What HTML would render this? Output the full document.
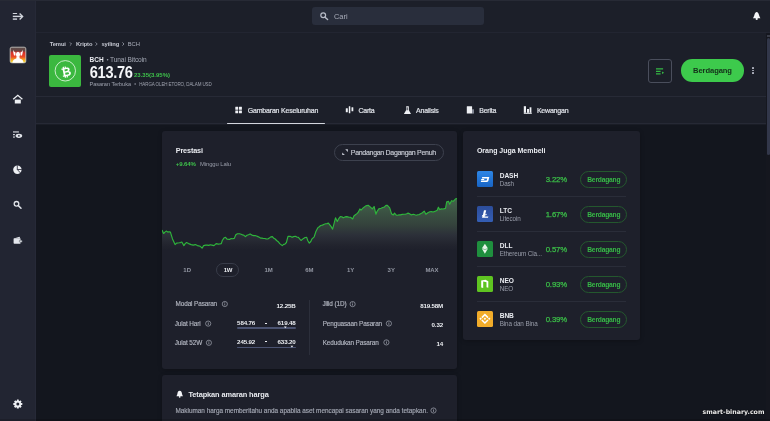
<!DOCTYPE html>
<html><head><meta charset="utf-8">
<style>
*{margin:0;padding:0;box-sizing:border-box}
html,body{width:770px;height:421px;overflow:hidden;background:#13161e;font-family:"Liberation Sans",Arial,sans-serif;color:#e9ebf0}
.a{position:absolute}
.t{position:absolute;white-space:nowrap;line-height:1}
</style></head><body>
<div class="a" style="left:0px;top:0px;width:36px;height:421px;background:#222532"></div>
<div class="a" style="left:35px;top:0px;width:1px;height:421px;background:#262937"></div>
<div class="a" style="left:36px;top:0px;width:734px;height:32px;background:#1c1f29"></div>
<div class="a" style="left:36px;top:32px;width:734px;height:1px;background:#222531"></div>
<div class="a" style="left:0px;top:0px;width:770px;height:1px;background:#272a35"></div>
<div class="a" style="left:36px;top:33px;width:730px;height:63px;background:#1c1f29"></div>
<div class="a" style="left:36px;top:96px;width:730px;height:1px;background:#272a36"></div>
<div class="a" style="left:36px;top:97px;width:730px;height:26px;background:#1c1f29"></div>
<div class="a" style="left:36px;top:123px;width:730px;height:1px;background:#262935"></div>
<div class="a" style="left:36px;top:124px;width:730px;height:1px;background:#1a1d26"></div>
<div class="a" style="left:766px;top:33px;width:4px;height:388px;background:#15171f"></div>
<div class="a" style="left:767px;top:34.5px;width:3px;height:2px;background:#3a3d49"></div>
<div class="a" style="left:767px;top:38px;width:3px;height:117px;background:#32374a;border-radius:1.5px"></div>
<svg class="a" style="left:0;top:0" width="36" height="421" viewBox="0 0 36 421">
<g fill="none" stroke="#d3d6de" stroke-linecap="butt">
<path d="M12.8 13.5H17.1" stroke-width="1"/>
<path d="M12.8 16.4H22.3" stroke-width="1.4"/>
<path d="M19.6 13.4L22.6 16.4L19.6 19.4" stroke-width="1.4" stroke-linejoin="miter"/>
<path d="M12.8 19.1H17.1" stroke-width="1.4"/>
</g>
<defs><linearGradient id="flag" x1="0" y1="0" x2="0" y2="1">
<stop offset="0" stop-color="#5c5252"/><stop offset="0.22" stop-color="#6a4440"/><stop offset="0.36" stop-color="#dc2f28"/><stop offset="0.62" stop-color="#ea4a26"/><stop offset="0.78" stop-color="#f29a22"/><stop offset="0.92" stop-color="#f6d230"/><stop offset="1" stop-color="#f4dc60"/></linearGradient></defs>
<rect x="10.2" y="47.2" width="15.6" height="15.6" rx="1.6" fill="url(#flag)" stroke="#d6d2ca" stroke-width="0.8"/>
<path d="M13.2 49.8C13.6 51 14.4 52 15.6 52.6L15.4 55.6L14 55.6C13.4 53.8 13.1 51.8 13.2 49.8Z" fill="#fff"/>
<path d="M22.8 49.8C22.4 51 21.6 52 20.4 52.6L20.6 55.6L22 55.6C22.6 53.8 22.9 51.8 22.8 49.8Z" fill="#fff"/>
<ellipse cx="18" cy="54.4" rx="2.1" ry="2.6" fill="#fff"/>
<path d="M12.4 62.8C12.6 60.2 14.4 58.9 16.3 58.5L16.6 56.5H19.4L19.7 58.5C21.6 58.9 23.4 60.2 23.6 62.8Z" fill="#fff"/>
<g fill="#eef0f4">
<path d="M13.2 99.3L17.8 95.3L22.4 99.3" fill="none" stroke="#eef0f4" stroke-width="1.3"/>
<rect x="14.8" y="99.6" width="6" height="3.9"/>
</g>
<g fill="#dfe2e8">
<rect x="13" y="131.4" width="5.9" height="1.1"/>
<rect x="13" y="134.1" width="1.9" height="1.1"/>
<rect x="13" y="136.5" width="1.9" height="1.1"/>
<ellipse cx="18.9" cy="135.8" rx="3.3" ry="2.1"/>
<circle cx="18.9" cy="135.8" r="0.9" fill="#2a2e3a"/>
</g>
<circle cx="17.4" cy="169.8" r="4.2" fill="#eef0f4"/>
<path d="M17.3 165.4V169.5H21.8M17.3 169.5L20.4 172.9" stroke="#222532" stroke-width="0.8" fill="none"/>
<circle cx="16.5" cy="203.8" r="2.3" fill="none" stroke="#dfe2e8" stroke-width="1.3"/>
<path d="M18.3 205.6L21 208.3" stroke="#dfe2e8" stroke-width="1.5" stroke-linecap="round"/>
<path d="M13.7 238.4L19.6 236.8L20.1 238.2Z" fill="#e3e6ec"/>
<rect x="13.6" y="238.2" width="7" height="5.6" rx="0.7" fill="#e3e6ec"/>
<rect x="19.4" y="240.2" width="2.8" height="2" rx="0.5" fill="#e3e6ec" stroke="#222532" stroke-width="0.4"/>
<g transform="translate(17.8 404.1)" fill="#eef0f4"><circle r="3.4"/><rect x="-1" y="-4.5" width="2" height="2" rx="0.3" transform="rotate(0)"/><rect x="-1" y="-4.5" width="2" height="2" rx="0.3" transform="rotate(45)"/><rect x="-1" y="-4.5" width="2" height="2" rx="0.3" transform="rotate(90)"/><rect x="-1" y="-4.5" width="2" height="2" rx="0.3" transform="rotate(135)"/><rect x="-1" y="-4.5" width="2" height="2" rx="0.3" transform="rotate(180)"/><rect x="-1" y="-4.5" width="2" height="2" rx="0.3" transform="rotate(225)"/><rect x="-1" y="-4.5" width="2" height="2" rx="0.3" transform="rotate(270)"/><rect x="-1" y="-4.5" width="2" height="2" rx="0.3" transform="rotate(315)"/><circle r="1.5" fill="#222532"/></g>
</svg>
<div class="a" style="left:312px;top:7px;width:172px;height:18px;background:#292e3c;border-radius:3px"></div>
<svg class="a" style="left:318px;top:10px" width="14" height="14" viewBox="318 10 14 14">
<circle cx="323.2" cy="15.3" r="2.4" fill="none" stroke="#b8bcc8" stroke-width="1.2"/>
<path d="M325 17.2L327.6 19.6" stroke="#b8bcc8" stroke-width="1.4" stroke-linecap="round"/></svg>
<div class="t" style="left:334.00px;top:13.00px;font-size:7.4px;color:#a9adba">Cari</div>
<svg class="a" style="left:750px;top:9px" width="14" height="14" viewBox="750 9 14 14">
<path d="M756.7 11.9C757.9 11.9 758.6 13.3 759 14.9C759.4 16.6 760.2 17.3 760.4 18.2H753C753.2 17.3 754 16.6 754.4 14.9C754.8 13.3 755.5 11.9 756.7 11.9Z" fill="#f4f5f8"/>
<circle cx="756.7" cy="18.9" r="1.1" fill="#f4f5f8"/></svg>
<div class="t" style="left:49.70px;top:42.00px;font-size:5.8px;color:#c4c7d1;font-weight:700;letter-spacing:-0.1px">Temui</div>
<div class="t" style="left:75.90px;top:42.00px;font-size:5.8px;color:#c4c7d1;font-weight:700;letter-spacing:-0.1px">Kripto</div>
<div class="t" style="left:101.50px;top:42.00px;font-size:5.8px;color:#c4c7d1;font-weight:700;letter-spacing:-0.1px">syiling</div>
<div class="t" style="left:127.70px;top:42.00px;font-size:5.8px;color:#a9adb9">BCH</div>
<svg class="a" style="left:0;top:0" width="200" height="100" viewBox="0 0 200 100"><g fill="none" stroke="#9ea2ae" stroke-width="0.8"><path d="M69.9 42.4L71.5 44L69.9 45.6"/><path d="M95.60000000000001 42.4L97.2 44L95.60000000000001 45.6"/><path d="M122.4 42.4L124.0 44L122.4 45.6"/></g><circle cx="107.6" cy="59.7" r="0.8" fill="#a3a7b3"/><circle cx="135.1" cy="84" r="0.75" fill="#9ea2ae"/></svg>
<svg class="a" style="left:49px;top:55px" width="32" height="32" viewBox="0 0 32 32">
<rect width="32" height="32" rx="2" fill="#3bb83f"/>
<circle cx="16.3" cy="15.8" r="10.2" fill="none" stroke="#d8f2d8" stroke-width="0.9"/>
</svg>
<div class="t" style="left:60.90px;top:66.00px;font-size:12px;color:#ffffff;font-weight:700;transform:rotate(-12deg);transform-origin:5px 5px">₿</div>
<div class="t" style="left:89.60px;top:57.00px;font-size:6.5px;color:#e9ebf0;font-weight:700">BCH</div>
<div class="t" style="left:110.00px;top:57.00px;font-size:6.6px;color:#a3a7b3;letter-spacing:-0.1px">Tunai Bitcoin</div>
<div class="t" style="left:89.80px;top:66.00px;font-size:14.6px;color:#f4f5f8;font-weight:700;letter-spacing:-0.3px;transform:scaleY(1.08);transform-origin:0 12px">613.76</div>
<div class="t" style="left:134.00px;top:72.00px;font-size:6.0px;color:#3ec24b;font-weight:700">23.35(3.95%)</div>
<div class="t" style="left:89.50px;top:82.00px;font-size:5.6px;color:#9ea2ae;letter-spacing:-0.05px">Pasaran Terbuka</div>
<div class="t" style="left:139.20px;top:83.00px;font-size:4.5px;color:#9ea2ae;letter-spacing:-0.1px">HARGA OLEH ETORO, DALAM USD</div>
<div class="a" style="left:647.5px;top:59.3px;width:24px;height:23.7px;border:1px solid #4a4e5c;border-radius:3px"></div>
<svg class="a" style="left:654px;top:66px" width="12" height="10" viewBox="654 66 12 10">
<g stroke="#35b845" stroke-width="1.3"><path d="M656 68.8H663.1M656 71.3H660.6M656 73.8H660.6"/></g>
<path d="M662 71.6L664.2 72.8L662 74Z" fill="#35b845"/></svg>
<div class="a" style="left:681px;top:59.2px;width:63px;height:22.5px;background:#3dca4c;border-radius:11.25px"></div>
<div class="t" style="left:712.50px;top:67.00px;font-size:7.6px;color:#14301a;font-weight:700;letter-spacing:-0.1px;transform:translateX(-50%)">Berdagang</div>
<div class="a" style="left:752.3px;top:67.1px;width:1.6px;height:1.6px;background:#b5b8c4;border-radius:0.4px"></div>
<div class="a" style="left:752.3px;top:69.6px;width:1.6px;height:1.6px;background:#b5b8c4;border-radius:0.4px"></div>
<div class="a" style="left:752.3px;top:72.2px;width:1.6px;height:1.6px;background:#b5b8c4;border-radius:0.4px"></div>
<div class="t" style="left:247.80px;top:107.00px;font-size:7px;color:#dfe2e8;letter-spacing:-0.2px;-webkit-text-stroke:0.2px #dfe2e8">Gambaran Keseluruhan</div>
<div class="a" style="left:227.3px;top:122.8px;width:97.5px;height:1.3px;background:#d3d6de;border-radius:0.6px"></div>
<div class="t" style="left:358.40px;top:107.00px;font-size:7px;color:#dfe2e8;letter-spacing:-0.2px;-webkit-text-stroke:0.2px #dfe2e8">Carta</div>
<div class="t" style="left:416.10px;top:107.00px;font-size:7px;color:#dfe2e8;letter-spacing:-0.2px;-webkit-text-stroke:0.2px #dfe2e8">Analisis</div>
<div class="t" style="left:479.20px;top:107.00px;font-size:7px;color:#dfe2e8;letter-spacing:-0.2px;-webkit-text-stroke:0.2px #dfe2e8">Berita</div>
<div class="t" style="left:536.90px;top:107.00px;font-size:7px;color:#dfe2e8;letter-spacing:-0.2px;-webkit-text-stroke:0.2px #dfe2e8">Kewangan</div>
<svg class="a" style="left:230px;top:100px" width="310" height="20" viewBox="230 100 310 20">
<g fill="#eef0f4">
<rect x="235.3" y="106.8" width="2.9" height="2.9" rx="0.3"/><rect x="239" y="106.8" width="2.9" height="2.9" rx="0.3"/>
<rect x="235.3" y="110.4" width="2.9" height="2.9" rx="0.3"/><rect x="239" y="110.4" width="2.9" height="2.9" rx="0.3"/>
<rect x="345.8" y="108.3" width="2" height="4" rx="0.3"/><rect x="348.8" y="106.3" width="1.5" height="7" rx="0.3"/><rect x="351.5" y="107.3" width="1.8" height="4" rx="0.3"/>
<path d="M406.2 106.3H408.8V110L411 113.9H403.9L406.2 110Z"/>
<rect x="466.8" y="106.2" width="5.3" height="7.4" rx="0.4"/>
<rect x="472.1" y="109.3" width="1.8" height="4.3" fill="#8e93a0"/>
<rect x="523.8" y="106.2" width="2.2" height="6.6"/><rect x="527" y="109" width="2" height="3.8"/><rect x="529.6" y="107.3" width="1.8" height="5.5"/>
<rect x="523.8" y="112.8" width="8" height="1"/>
</g>
<path d="M407.2 107.3V110.3" stroke="#1c1f29" stroke-width="0.9"/>
</svg>
<div class="a" style="left:162px;top:131px;width:295px;height:238px;background:#1e202b;border-radius:3px;box-shadow:0 1px 4px rgba(0,0,0,0.25)"></div>
<div class="t" style="left:175.70px;top:147.00px;font-size:7.3px;color:#e9ebf0;font-weight:700;letter-spacing:-0.15px">Prestasi</div>
<div class="t" style="left:175.70px;top:161.00px;font-size:6.1px;color:#3ec24b;font-weight:700;letter-spacing:-0.1px">+9.64%</div>
<div class="t" style="left:200.00px;top:162.00px;font-size:5.9px;color:#9a9eab;letter-spacing:-0.1px">Minggu Lalu</div>
<div class="a" style="left:334.3px;top:143.8px;width:110px;height:17.3px;border:1px solid #3d414e;border-radius:9px"></div>
<svg class="a" style="left:340px;top:147px" width="10" height="10" viewBox="340 147 10 10">
<path d="M345.2 149.2H347.9V151.9Z M342.2 152.4V155.1H344.9Z" fill="#c5c8d2"/></svg>
<div class="t" style="left:350.80px;top:149.00px;font-size:7px;color:#c9ccd5;letter-spacing:-0.3px;-webkit-text-stroke:0.15px currentColor">Pandangan Dagangan Penuh</div>
<svg class="a" style="left:162px;top:190px" width="295" height="62" viewBox="0 0 295 62">
<defs><linearGradient id="gf" gradientUnits="userSpaceOnUse" x1="0" y1="0" x2="0" y2="62"><stop offset="0.145" stop-color="#43654b"/><stop offset="0.355" stop-color="#3b5243"/><stop offset="0.565" stop-color="#34423c"/><stop offset="0.726" stop-color="#2c3039"/><stop offset="0.887" stop-color="#22242e"/><stop offset="0.968" stop-color="#1e202b"/></linearGradient></defs>
<path d="M0.0,40.1 L1.6,43.5 L2.9,42.1 L4.2,41.1 L5.8,42.1 L7.1,41.7 L8.4,42.1 L10.5,48.9 L13.1,54.6 L14.6,53.1 L17.2,52.8 L18.5,52.6 L19.8,52.0 L21.9,55.6 L23.2,53.6 L24.5,52.5 L26.6,53.6 L29.2,54.6 L31.2,55.1 L33.3,54.6 L35.4,55.6 L36.7,55.9 L38.0,56.2 L40.1,58.2 L41.6,55.6 L43.7,55.1 L45.2,55.1 L46.8,55.4 L48.3,54.8 L49.9,55.1 L52.0,55.6 L54.1,53.6 L56.2,54.1 L57.8,53.9 L59.3,53.6 L60.3,50.5 L61.9,48.1 L63.5,47.3 L65.0,49.1 L67.6,49.4 L69.2,48.5 L70.7,48.7 L72.3,48.4 L73.8,44.7 L75.4,43.7 L77.5,43.7 L79.2,44.2 L80.6,44.9 L82.0,45.3 L83.4,46.6 L85.0,45.2 L86.5,44.7 L88.1,43.9 L89.9,45.1 L91.7,45.6 L93.1,45.5 L94.5,46.0 L95.9,46.6 L97.3,47.2 L98.6,48.1 L100.0,48.1 L101.4,48.5 L102.8,48.5 L104.2,48.9 L105.8,49.0 L107.3,48.1 L108.8,46.9 L110.4,46.6 L111.8,48.3 L113.2,49.0 L114.6,50.5 L116.2,51.7 L117.7,53.6 L120.3,55.6 L121.6,54.4 L122.9,54.1 L124.4,52.5 L126.0,46.3 L128.1,46.3 L130.1,47.3 L131.7,46.6 L133.3,46.3 L134.9,47.1 L136.4,47.3 L139.0,50.5 L141.6,48.4 L143.1,47.5 L144.7,47.3 L145.7,50.5 L147.3,53.1 L148.8,51.5 L149.8,49.2 L152.2,46.8 L153.9,41.5 L155.7,37.9 L157.2,36.8 L158.7,35.5 L160.4,35.1 L162.2,34.3 L163.6,33.8 L165.0,33.6 L166.4,33.1 L168.8,36.1 L170.6,39.1 L172.3,32.6 L173.5,27.8 L175.3,31.4 L176.8,28.5 L178.3,26.6 L179.8,26.7 L181.2,27.8 L183.0,26.9 L184.8,26.6 L186.6,27.1 L188.4,27.2 L190.7,29.0 L191.9,26.0 L193.4,24.7 L194.9,23.6 L196.1,22.5 L197.9,18.9 L199.0,20.1 L201.4,17.7 L203.8,15.9 L206.2,15.3 L208.5,17.1 L210.3,18.9 L212.1,16.5 L213.9,24.2 L215.1,21.3 L216.8,18.9 L219.2,18.3 L220.7,17.5 L222.2,17.1 L224.0,15.3 L225.4,15.4 L227.7,17.8 L229.5,23.7 L231.3,24.9 L232.5,23.1 L234.3,25.2 L235.7,25.2 L237.0,24.9 L238.4,24.9 L240.2,24.4 L242.0,24.3 L243.4,24.2 L244.7,23.7 L246.1,23.1 L247.6,23.7 L249.1,24.9 L251.5,24.3 L252.9,24.8 L254.4,25.2 L255.8,24.7 L257.2,24.6 L258.6,23.7 L260.4,22.7 L262.2,21.1 L263.9,24.3 L266.3,22.5 L267.8,21.8 L269.3,21.6 L271.1,22.0 L272.8,21.4 L275.2,20.2 L276.4,17.2 L277.6,19.6 L279.4,18.9 L281.1,19.0 L283.5,18.4 L284.7,11.9 L286.5,11.3 L287.7,14.2 L289.5,10.7 L291.2,11.3 L292.4,10.1 L293.6,8.9 L295.0,8.5 L295,62 L0,62 Z" fill="url(#gf)"/>
<path d="M0.0,40.1 L1.6,43.5 L2.9,42.1 L4.2,41.1 L5.8,42.1 L7.1,41.7 L8.4,42.1 L10.5,48.9 L13.1,54.6 L14.6,53.1 L17.2,52.8 L18.5,52.6 L19.8,52.0 L21.9,55.6 L23.2,53.6 L24.5,52.5 L26.6,53.6 L29.2,54.6 L31.2,55.1 L33.3,54.6 L35.4,55.6 L36.7,55.9 L38.0,56.2 L40.1,58.2 L41.6,55.6 L43.7,55.1 L45.2,55.1 L46.8,55.4 L48.3,54.8 L49.9,55.1 L52.0,55.6 L54.1,53.6 L56.2,54.1 L57.8,53.9 L59.3,53.6 L60.3,50.5 L61.9,48.1 L63.5,47.3 L65.0,49.1 L67.6,49.4 L69.2,48.5 L70.7,48.7 L72.3,48.4 L73.8,44.7 L75.4,43.7 L77.5,43.7 L79.2,44.2 L80.6,44.9 L82.0,45.3 L83.4,46.6 L85.0,45.2 L86.5,44.7 L88.1,43.9 L89.9,45.1 L91.7,45.6 L93.1,45.5 L94.5,46.0 L95.9,46.6 L97.3,47.2 L98.6,48.1 L100.0,48.1 L101.4,48.5 L102.8,48.5 L104.2,48.9 L105.8,49.0 L107.3,48.1 L108.8,46.9 L110.4,46.6 L111.8,48.3 L113.2,49.0 L114.6,50.5 L116.2,51.7 L117.7,53.6 L120.3,55.6 L121.6,54.4 L122.9,54.1 L124.4,52.5 L126.0,46.3 L128.1,46.3 L130.1,47.3 L131.7,46.6 L133.3,46.3 L134.9,47.1 L136.4,47.3 L139.0,50.5 L141.6,48.4 L143.1,47.5 L144.7,47.3 L145.7,50.5 L147.3,53.1 L148.8,51.5 L149.8,49.2 L152.2,46.8 L153.9,41.5 L155.7,37.9 L157.2,36.8 L158.7,35.5 L160.4,35.1 L162.2,34.3 L163.6,33.8 L165.0,33.6 L166.4,33.1 L168.8,36.1 L170.6,39.1 L172.3,32.6 L173.5,27.8 L175.3,31.4 L176.8,28.5 L178.3,26.6 L179.8,26.7 L181.2,27.8 L183.0,26.9 L184.8,26.6 L186.6,27.1 L188.4,27.2 L190.7,29.0 L191.9,26.0 L193.4,24.7 L194.9,23.6 L196.1,22.5 L197.9,18.9 L199.0,20.1 L201.4,17.7 L203.8,15.9 L206.2,15.3 L208.5,17.1 L210.3,18.9 L212.1,16.5 L213.9,24.2 L215.1,21.3 L216.8,18.9 L219.2,18.3 L220.7,17.5 L222.2,17.1 L224.0,15.3 L225.4,15.4 L227.7,17.8 L229.5,23.7 L231.3,24.9 L232.5,23.1 L234.3,25.2 L235.7,25.2 L237.0,24.9 L238.4,24.9 L240.2,24.4 L242.0,24.3 L243.4,24.2 L244.7,23.7 L246.1,23.1 L247.6,23.7 L249.1,24.9 L251.5,24.3 L252.9,24.8 L254.4,25.2 L255.8,24.7 L257.2,24.6 L258.6,23.7 L260.4,22.7 L262.2,21.1 L263.9,24.3 L266.3,22.5 L267.8,21.8 L269.3,21.6 L271.1,22.0 L272.8,21.4 L275.2,20.2 L276.4,17.2 L277.6,19.6 L279.4,18.9 L281.1,19.0 L283.5,18.4 L284.7,11.9 L286.5,11.3 L287.7,14.2 L289.5,10.7 L291.2,11.3 L292.4,10.1 L293.6,8.9 L295.0,8.5" fill="none" stroke="#2eb53b" stroke-width="1.15" stroke-linejoin="round"/>
</svg>
<div class="t" style="left:183.30px;top:267.00px;font-size:6px;color:#9397a3;font-weight:700">1D</div>
<div class="a" style="left:216.3px;top:263.3px;width:22.4px;height:13.4px;border:1px solid #383c49;border-radius:7px"></div>
<div class="t" style="left:223.80px;top:267.00px;font-size:6px;color:#e9ebf0;font-weight:700;letter-spacing:-0.45px">1W</div>
<div class="t" style="left:264.40px;top:267.00px;font-size:6px;color:#9397a3;font-weight:700">1M</div>
<div class="t" style="left:305.20px;top:267.00px;font-size:6px;color:#9397a3;font-weight:700">6M</div>
<div class="t" style="left:347.00px;top:267.00px;font-size:6px;color:#9397a3;font-weight:700">1Y</div>
<div class="t" style="left:387.60px;top:267.00px;font-size:6px;color:#9397a3;font-weight:700">3Y</div>
<div class="t" style="left:425.50px;top:267.00px;font-size:6px;color:#9397a3;font-weight:700;letter-spacing:-0.15px">MAX</div>
<div class="t" style="left:175.60px;top:301.00px;font-size:6.4px;color:#b2b5c0;letter-spacing:-0.12px;-webkit-text-stroke:0.15px currentColor">Modal Pasaran</div>
<div class="t" style="left:174.80px;top:321.00px;font-size:6.4px;color:#b2b5c0;letter-spacing:-0.12px;-webkit-text-stroke:0.15px currentColor">Julat Hari</div>
<div class="t" style="left:174.80px;top:340.00px;font-size:6.4px;color:#b2b5c0;letter-spacing:-0.12px;-webkit-text-stroke:0.15px currentColor">Julat 52W</div>
<div class="t" style="right:474.40px;top:303.00px;font-size:6.2px;color:#eceef2;font-weight:700;letter-spacing:-0.15px">12.25B</div>
<div class="t" style="left:237.10px;top:320.00px;font-size:6.2px;color:#eceef2;font-weight:700;letter-spacing:-0.15px">584.76</div>
<div class="t" style="right:474.40px;top:320.00px;font-size:6.2px;color:#eceef2;font-weight:700;letter-spacing:-0.15px">619.48</div>
<div class="t" style="left:237.10px;top:339.00px;font-size:6.2px;color:#eceef2;font-weight:700;letter-spacing:-0.15px">245.92</div>
<div class="t" style="right:474.40px;top:339.00px;font-size:6.2px;color:#eceef2;font-weight:700;letter-spacing:-0.15px">633.20</div>
<div class="a" style="left:265.3px;top:322.6px;width:2.2px;height:0.9px;background:#eceef2"></div>
<div class="a" style="left:265.3px;top:341.4px;width:2.2px;height:0.9px;background:#eceef2"></div>
<div class="a" style="left:237.1px;top:327.4px;width:58.5px;height:1.4px;background:#4b5371;border-radius:1px"></div>
<div class="a" style="left:237.1px;top:346.6px;width:58.5px;height:1.4px;background:#4b5371;border-radius:1px"></div>
<svg class="a" style="left:280px;top:324px" width="16" height="26" viewBox="280 324 16 26">
<path d="M283.9 326.5H286.7L285.3 328.2Z" fill="#eef0f4"/>
<path d="M290.5 345.7H293.3L291.9 347.4Z" fill="#eef0f4"/></svg>
<div class="a" style="left:309px;top:300px;width:0.8px;height:55px;background:#2c2f3b"></div>
<div class="t" style="left:322.40px;top:301.00px;font-size:6.4px;color:#b2b5c0;letter-spacing:-0.12px;-webkit-text-stroke:0.15px currentColor">Jilid (1D)</div>
<div class="t" style="left:322.70px;top:321.00px;font-size:6.4px;color:#b2b5c0;letter-spacing:-0.12px;-webkit-text-stroke:0.15px currentColor">Penguasaan Pasaran</div>
<div class="t" style="left:322.70px;top:340.00px;font-size:6.4px;color:#b2b5c0;letter-spacing:-0.12px;-webkit-text-stroke:0.15px currentColor">Kedudukan Pasaran</div>
<div class="t" style="right:327.00px;top:303.00px;font-size:6.2px;color:#eceef2;font-weight:700;letter-spacing:-0.2px">819.58M</div>
<div class="t" style="right:327.00px;top:322.00px;font-size:6.2px;color:#eceef2;font-weight:700;letter-spacing:-0.15px">0.32</div>
<div class="t" style="right:327.00px;top:341.00px;font-size:6.2px;color:#eceef2;font-weight:700;letter-spacing:-0.15px">14</div>
<div class="a" style="left:462.6px;top:131px;width:177.2px;height:209px;background:#1e202b;border-radius:3px;box-shadow:0 1px 4px rgba(0,0,0,0.25)"></div>
<div class="t" style="left:476.90px;top:147.00px;font-size:7px;color:#e9ebf0;font-weight:700;letter-spacing:-0.02px">Orang Juga Membeli</div>
<div class="t" style="left:499.70px;top:173.00px;font-size:6.6px;color:#e9ebf0;font-weight:700;letter-spacing:-0.05px">DASH</div>
<div class="t" style="left:499.70px;top:181.00px;font-size:6.3px;color:#9a9eab;letter-spacing:-0.1px">Dash</div>
<div class="t" style="left:545.70px;top:176.00px;font-size:7.8px;color:#3bbf48;letter-spacing:-0.15px;-webkit-text-stroke:0.25px #3bbf48">3.22%</div>
<div class="a" style="left:580px;top:171.0px;width:47.3px;height:17px;border:1px solid #24582e;border-radius:9px"></div>
<div class="t" style="left:603.80px;top:177.00px;font-size:6.7px;color:#36b846;font-weight:700;letter-spacing:-0.2px;transform:translateX(-50%)">Berdagang</div>
<div class="a" style="left:477px;top:196px;width:149px;height:1px;background:#2a2d39"></div>
<div class="t" style="left:499.70px;top:208.00px;font-size:6.6px;color:#e9ebf0;font-weight:700;letter-spacing:-0.05px">LTC</div>
<div class="t" style="left:499.70px;top:216.00px;font-size:6.3px;color:#9a9eab;letter-spacing:-0.1px">Litecoin</div>
<div class="t" style="left:545.70px;top:211.00px;font-size:7.8px;color:#3bbf48;letter-spacing:-0.15px;-webkit-text-stroke:0.25px #3bbf48">1.67%</div>
<div class="a" style="left:580px;top:206.0px;width:47.3px;height:17px;border:1px solid #24582e;border-radius:9px"></div>
<div class="t" style="left:603.80px;top:212.00px;font-size:6.7px;color:#36b846;font-weight:700;letter-spacing:-0.2px;transform:translateX(-50%)">Berdagang</div>
<div class="a" style="left:477px;top:231px;width:149px;height:1px;background:#2a2d39"></div>
<div class="t" style="left:499.70px;top:243.00px;font-size:6.6px;color:#e9ebf0;font-weight:700;letter-spacing:-0.05px">DLL</div>
<div class="t" style="left:499.70px;top:251.00px;font-size:6.3px;color:#9a9eab;letter-spacing:-0.1px">Ethereum Cla...</div>
<div class="t" style="left:545.70px;top:246.00px;font-size:7.8px;color:#3bbf48;letter-spacing:-0.15px;-webkit-text-stroke:0.25px #3bbf48">0.57%</div>
<div class="a" style="left:580px;top:241.0px;width:47.3px;height:17px;border:1px solid #24582e;border-radius:9px"></div>
<div class="t" style="left:603.80px;top:247.00px;font-size:6.7px;color:#36b846;font-weight:700;letter-spacing:-0.2px;transform:translateX(-50%)">Berdagang</div>
<div class="a" style="left:477px;top:266px;width:149px;height:1px;background:#2a2d39"></div>
<div class="t" style="left:499.70px;top:278.00px;font-size:6.6px;color:#e9ebf0;font-weight:700;letter-spacing:-0.05px">NEO</div>
<div class="t" style="left:499.70px;top:286.00px;font-size:6.3px;color:#9a9eab;letter-spacing:-0.1px">NEO</div>
<div class="t" style="left:545.70px;top:281.00px;font-size:7.8px;color:#3bbf48;letter-spacing:-0.15px;-webkit-text-stroke:0.25px #3bbf48">0.93%</div>
<div class="a" style="left:580px;top:276.0px;width:47.3px;height:17px;border:1px solid #24582e;border-radius:9px"></div>
<div class="t" style="left:603.80px;top:282.00px;font-size:6.7px;color:#36b846;font-weight:700;letter-spacing:-0.2px;transform:translateX(-50%)">Berdagang</div>
<div class="a" style="left:477px;top:301px;width:149px;height:1px;background:#2a2d39"></div>
<div class="t" style="left:499.70px;top:313.00px;font-size:6.6px;color:#e9ebf0;font-weight:700;letter-spacing:-0.05px">BNB</div>
<div class="t" style="left:499.70px;top:321.00px;font-size:6.3px;color:#9a9eab;letter-spacing:-0.1px">Bina dan Bina</div>
<div class="t" style="left:545.70px;top:316.00px;font-size:7.8px;color:#3bbf48;letter-spacing:-0.15px;-webkit-text-stroke:0.25px #3bbf48">0.39%</div>
<div class="a" style="left:580px;top:311.0px;width:47.3px;height:17px;border:1px solid #24582e;border-radius:9px"></div>
<div class="t" style="left:603.80px;top:317.00px;font-size:6.7px;color:#36b846;font-weight:700;letter-spacing:-0.2px;transform:translateX(-50%)">Berdagang</div>
<svg class="a" style="left:476px;top:170px" width="18" height="160" viewBox="476 170 18 160">
<defs>
<linearGradient id="gd" x1="0" y1="0" x2="0" y2="1"><stop offset="0" stop-color="#2d86e6"/><stop offset="1" stop-color="#1864c4"/></linearGradient>
<linearGradient id="gl" x1="0" y1="0" x2="0" y2="1"><stop offset="0" stop-color="#2c4d9a"/><stop offset="1" stop-color="#345eb4"/></linearGradient>
</defs>
<rect x="477" y="171" width="16" height="16" rx="1.5" fill="url(#gd)"/>
<path d="M482.2 177.1H489.3L488.4 180.7C488.2 181.5 487.6 181.9 486.8 181.9H480.8L481.2 180.6H486.6L487.3 178.4H481.9Z" fill="#fff"/>
<path d="M481.3 179.1H484.4L484.1 180.1H481Z" fill="#fff"/>
<rect x="477" y="206" width="16" height="16" rx="1.5" fill="url(#gl)"/>
<path d="M484 210.3H486.2L485.2 214.4L486.8 213.8L486.5 215L484.9 215.6L484.6 216.6H488.4L488 217.7H482L482.6 216.2L481.8 216.5L482.1 215.3L482.9 215Z" fill="#fff"/>
<rect x="477" y="241" width="16" height="16" rx="1.5" fill="#1f8f3e"/>
<path d="M484.9 243.7L488 248.4L484.9 253.7L481.8 248.4Z" fill="#e8f5ea"/>
<path d="M481.8 248.4L484.9 249.6L488 248.4" fill="none" stroke="#1f8f3e" stroke-width="0.5"/>
<rect x="477" y="276" width="16" height="16" rx="1.5" fill="#5fc421"/>
<path d="M481.2 280.6L485.5 279.8L488.3 281.2V287.8L486.5 287.2V282.2L483.2 281.6V288L481.2 287.4Z" fill="#fff"/>
<rect x="477" y="311" width="16" height="16" rx="1.5" fill="#f2ac2a"/>
<g fill="#fff">
<path d="M484.9 313.5L488.5 317.1L487.4 318.2L484.9 315.7L482.4 318.2L481.3 317.1Z"/>
<path d="M484.9 324.1L488.5 320.5L487.4 319.4L484.9 321.9L482.4 319.4L481.3 320.5Z"/>
<path d="M479.4 318.8L480.6 317.6L481.8 318.8L480.6 320Z"/>
<path d="M488 318.8L489.2 317.6L490.4 318.8L489.2 320Z"/>
<path d="M484.9 317.6L486.1 318.8L484.9 320L483.7 318.8Z"/>
</g>
</svg>
<div class="a" style="left:162px;top:375px;width:295px;height:60px;background:#1e202b;border-radius:3px;box-shadow:0 1px 4px rgba(0,0,0,0.25)"></div>
<svg class="a" style="left:175px;top:389px" width="10" height="10" viewBox="175 389 10 10">
<path d="M179.7 390.7C181.4 390.7 181.9 392.3 182 393.7C182.1 394.8 182.8 395.4 182.9 396.2H176.5C176.6 395.4 177.3 394.8 177.4 393.7C177.5 392.3 178 390.7 179.7 390.7Z" fill="#f4f5f8"/>
<circle cx="179.7" cy="396.8" r="0.9" fill="#f4f5f8"/></svg>
<div class="t" style="left:188.40px;top:391.00px;font-size:7.4px;color:#e9ebf0;font-weight:700;letter-spacing:-0.1px">Tetapkan amaran harga</div>
<div class="t" style="left:175.40px;top:408.00px;font-size:6.4px;color:#a3a7b3;-webkit-text-stroke:0.15px currentColor">Makluman harga memberitahu anda apabila aset mencapai sasaran yang anda tetapkan.</div>
<svg class="a" style="left:0;top:0" width="770" height="421" viewBox="0 0 770 421"><circle cx="224.8" cy="304" r="2.6" fill="none" stroke="#a3a7b3" stroke-width="0.7"/><rect x="224.45" y="303.40" width="0.7" height="2" fill="#a3a7b3"/><rect x="224.45" y="302.30" width="0.7" height="0.7" fill="#a3a7b3"/><circle cx="208.2" cy="323.6" r="2.6" fill="none" stroke="#a3a7b3" stroke-width="0.7"/><rect x="207.85" y="323.00" width="0.7" height="2" fill="#a3a7b3"/><rect x="207.85" y="321.90" width="0.7" height="0.7" fill="#a3a7b3"/><circle cx="208.9" cy="342.8" r="2.6" fill="none" stroke="#a3a7b3" stroke-width="0.7"/><rect x="208.55" y="342.20" width="0.7" height="2" fill="#a3a7b3"/><rect x="208.55" y="341.10" width="0.7" height="0.7" fill="#a3a7b3"/><circle cx="352.6" cy="304.1" r="2.6" fill="none" stroke="#a3a7b3" stroke-width="0.7"/><rect x="352.25" y="303.50" width="0.7" height="2" fill="#a3a7b3"/><rect x="352.25" y="302.40" width="0.7" height="0.7" fill="#a3a7b3"/><circle cx="388.9" cy="323.5" r="2.6" fill="none" stroke="#a3a7b3" stroke-width="0.7"/><rect x="388.55" y="322.90" width="0.7" height="2" fill="#a3a7b3"/><rect x="388.55" y="321.80" width="0.7" height="0.7" fill="#a3a7b3"/><circle cx="386.4" cy="342.4" r="2.6" fill="none" stroke="#a3a7b3" stroke-width="0.7"/><rect x="386.05" y="341.80" width="0.7" height="2" fill="#a3a7b3"/><rect x="386.05" y="340.70" width="0.7" height="0.7" fill="#a3a7b3"/><circle cx="433.5" cy="410.5" r="2.6" fill="none" stroke="#a3a7b3" stroke-width="0.7"/><rect x="433.15" y="409.90" width="0.7" height="2" fill="#a3a7b3"/><rect x="433.15" y="408.80" width="0.7" height="0.7" fill="#a3a7b3"/></svg>
<div class="a" style="left:0px;top:419px;width:770px;height:2px;background:rgba(0,0,0,0.14)"></div>
<div class="t" style="right:5.60px;top:409.00px;font-size:6.25px;color:#ececec;font-weight:700;font-family:'DejaVu Sans',sans-serif;text-shadow:0 0 1px #000">smart-binary.com</div>
</body></html>
